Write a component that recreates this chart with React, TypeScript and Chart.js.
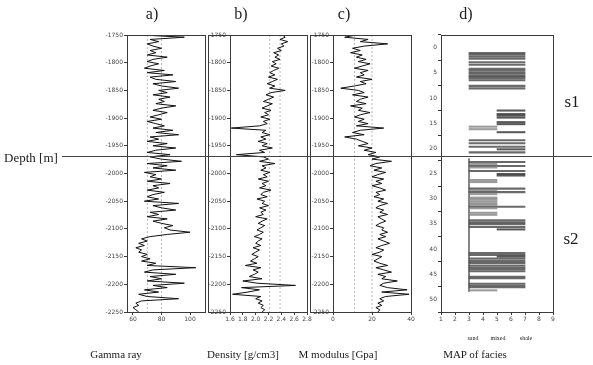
import React, { useEffect, useRef } from "react";
import { Chart, registerables } from "chart.js";
Chart.register(...registerables);

const W = 593;
const H = 365;

// depth axis (m)
const DEPTH_TOP = -1750;
const DEPTH_BOTTOM = -2250;
const DEPTH_STEP = 4; // log sampling interval
const DEPTH_TICK = 50;
const ZONE_BOUNDARY = -1970; // s1 / s2 boundary

// a) Gamma ray
const GAMMA_TICKS = [60, 80, 100];
const GAMMA_REF = [70, 80];
const GAMMA = [
  66, 96, 72, 78, 70, 74,
  80, 72, 76, 70, 84, 74,
  70, 78, 72, 68, 82, 70,
  88, 72, 76, 90, 74, 80,
  92, 78, 84, 74, 86, 78,
  82, 76, 90, 80, 74, 84,
  78, 72, 80, 70, 76, 82,
  74, 88, 76, 92, 72, 78,
  70, 84, 74, 90, 76, 70,
  86, 72, 80, 94, 70, 84,
  74, 90, 68, 76, 72, 80,
  70, 86, 74, 78, 70, 82,
  74, 70, 78, 68, 92, 74,
  80, 90, 72, 78, 70, 84,
  74, 80, 88, 82, 86, 100,
  84, 72, 66, 70, 64, 68,
  62, 66, 64, 70, 66, 72,
  66, 76, 70, 104, 74, 68,
  90, 72, 80, 70, 96, 74,
  84, 68, 78, 64, 70, 92,
  66, 62, 64, 60, 62, 64,
];

// b) Density
const DENSITY_TICKS = [1.6, 1.8, 2.0, 2.2, 2.4, 2.6, 2.8];
const DENSITY_REF = [2.22, 2.38];
const DENSITY = [
  2.42, 2.46, 2.38, 2.50, 2.40, 2.44,
  2.34, 2.40, 2.28, 2.36, 2.30, 2.38,
  2.26, 2.32, 2.24, 2.36, 2.28, 2.22,
  2.30, 2.20, 2.34, 2.26, 2.18, 2.30,
  2.22, 2.46, 2.24, 2.16, 2.28, 2.20,
  2.12, 2.26, 2.18, 2.10, 2.24, 2.14,
  2.20, 2.08, 2.22, 2.12, 2.18, 2.06,
  1.62, 2.16, 2.10, 2.22, 2.08, 2.16,
  2.04, 2.18, 2.10, 2.26, 2.06, 2.14,
  1.70, 2.12, 2.20, 2.06, 2.30, 2.10,
  2.16, 2.08, 2.22, 2.12, 2.18, 2.04,
  2.20, 2.10, 2.16, 2.06, 2.24, 2.12,
  2.08, 2.18, 2.02, 2.14, 2.10, 2.20,
  2.06, 2.16, 2.08, 2.12, 2.00, 2.18,
  2.10, 2.04, 2.14, 2.08, 2.02, 2.12,
  2.06, 1.98, 2.10, 2.04, 2.00, 2.08,
  1.96, 2.06, 2.00, 1.94, 2.04, 1.98,
  1.92, 2.02, 1.84, 2.08, 1.96, 2.04,
  1.98, 1.90, 2.10, 1.80, 2.02, 2.62,
  1.78, 2.06, 1.88, 1.64, 2.08, 2.00,
  2.10, 2.04, 2.12, 2.08, 2.14, 2.10,
];

// c) M modulus
const MMOD_TICKS = [0, 20, 40];
const MMOD_REF = [11, 20];
const MMOD = [
  12, 6, 18, 14, 28, 16,
  10, 14, 9, 15, 12, 17,
  13, 19, 15, 11, 18, 14,
  16, 12, 20, 14, 17, 11,
  4, 13, 16, 10, 18, 14,
  12, 17, 9, 15, 13, 19,
  14, 11, 16, 13, 18, 12,
  26, 14, 10, 16, 6, 12,
  15, 18, 13, 20, 16, 22,
  18, 24, 20, 30, 22, 19,
  25, 21, 27, 23, 20, 26,
  22, 25, 20, 24, 27, 22,
  24, 21, 26, 23, 28, 24,
  22, 26, 24, 28, 23, 25,
  27, 24, 22, 26, 25, 28,
  24, 27, 23, 26, 29, 25,
  22, 26, 24, 20, 25, 23,
  21, 24, 28, 22, 26, 30,
  23, 27, 25, 33, 26, 24,
  28, 38, 25, 39, 27, 24,
  26, 23, 25, 22, 24, 23,
];

// d) MAP of facies (3 = sand, 5 = mixed, 7 = shale)
const FACIES_NAMES = ["sand", "mixed", "shale"];
const FACIES_CODES = [3, 5, 7];
const FACIES_DEPTH = [
  -1761, -1764, -1768, -1772, -1779, -1784,
  -1792, -1795, -1799, -1802, -1806, -1808, -1811, -1815,
  -1826, -1831,
  -1875, -1882, -1885, -1889, -1898, -1902,
  -1907, -1912, -1918,
  -1934, -1940, -1947, -1952, -1958,
  -1977, -1981, -1985, -1988,
  -1995, -2001, -2004,
  -2013, -2017,
  -2030, -2033, -2037, -2041,
  -2048, -2051, -2055, -2059, -2062, -2066, -2069,
  -2078, -2082,
  -2093, -2097, -2100, -2106, -2111,
  -2158, -2162, -2165, -2169, -2174, -2178,
  -2183, -2187, -2190, -2194,
  -2205, -2208,
  -2219, -2223, -2226, -2232,
];
const FACIES_FROM = [
  3, 3, 3, 3, 3, 3,
  3, 3, 3, 3, 3, 3, 3, 3,
  3, 3,
  5, 5, 5, 5, 5, 5,
  3, 3, 5,
  3, 3, 3, 5, 3,
  3, 3, 3, 3,
  3, 5, 5,
  3, 3,
  3, 3, 3, 3,
  3, 3, 3, 3, 3, 3, 3,
  3, 3,
  3, 3, 3, 3, 5,
  3, 3, 5, 3, 3, 3,
  3, 3, 3, 3,
  3, 3,
  3, 3, 3, 3,
];
const FACIES_TO = [
  7, 7, 7, 7, 7, 7,
  7, 7, 7, 7, 7, 7, 7, 7,
  7, 7,
  7, 7, 7, 7, 7, 7,
  5, 5, 7,
  7, 7, 7, 7, 7,
  7, 5, 7, 5,
  7, 7, 7,
  5, 5,
  7, 5, 7, 5,
  5, 5, 5, 5, 5, 7, 5,
  5, 5,
  7, 7, 7, 7, 7,
  7, 7, 7, 7, 7, 7,
  7, 7, 7, 7,
  7, 7,
  7, 7, 7, 5,
];
const FACIES_TICKS = [1, 2, 3, 4, 5, 6, 7, 8, 9];

const DEPTHS = GAMMA.map((_, i) => DEPTH_TOP - i * DEPTH_STEP);

const TICK_FONT = { family: "'DejaVu Sans', sans-serif", size: 6 };
const AXIS_COLOR = "#3a3a3a";
const PLOT_TOP = 35;
const PLOT_BOTTOM = 312;
const XAXIS_H = 14;

function framePlugin(outerLeft: number | null) {
  return {
    id: "frame",
    afterDraw(chart: any) {
      const { ctx, chartArea: a } = chart;
      ctx.save();
      ctx.strokeStyle = AXIS_COLOR;
      ctx.lineWidth = 1;
      ctx.strokeRect(Math.round(a.left) + 0.5, Math.round(a.top) + 0.5, Math.round(a.right - a.left), Math.round(a.bottom - a.top));
      if (outerLeft !== null) {
        ctx.strokeRect(outerLeft + 0.5, Math.round(a.top) + 0.5, Math.round(a.right - outerLeft), Math.round(a.bottom - a.top));
      }
      ctx.restore();
    },
  };
}

function depthAxis(width: number, labelFn?: (v: number) => string) {
  return {
    type: "linear",
    min: DEPTH_BOTTOM,
    max: DEPTH_TOP,
    afterBuildTicks: (s: any) => {
      const t = [];
      for (let v = DEPTH_TOP; v >= DEPTH_BOTTOM; v -= DEPTH_TICK) t.push({ value: v });
      s.ticks = t;
    },
    afterFit: (s: any) => {
      s.width = width;
    },
    grid: { drawOnChartArea: false, tickLength: 3, color: AXIS_COLOR },
    border: { color: AXIS_COLOR },
    ticks: {
      font: TICK_FONT,
      color: "#444",
      padding: 1,
      autoSkip: false,
      callback: (v: number) => (labelFn ? labelFn(v) : String(v)),
    },
  };
}

function valueAxis(min: number, max: number, ticks: number[]) {
  return {
    type: "linear",
    min,
    max,
    afterBuildTicks: (s: any) => {
      s.ticks = ticks.map((v) => ({ value: v }));
    },
    afterFit: (s: any) => {
      s.height = XAXIS_H;
    },
    grid: { drawOnChartArea: false, tickLength: 3, color: AXIS_COLOR },
    border: { color: AXIS_COLOR },
    ticks: { font: TICK_FONT, color: "#444", padding: 1, autoSkip: false, maxRotation: 0 },
  };
}

function padding(left: number, right: number) {
  return { left, right: W - right, top: PLOT_TOP, bottom: H - PLOT_BOTTOM - XAXIS_H };
}

function logConfig(values: number[], refs: number[], xmin: number, xmax: number, ticks: number[], left: number, right: number, yw: number, outerLeft: number | null) {
  const refSets = refs.map((r) => ({
    data: [
      { x: r, y: DEPTH_TOP },
      { x: r, y: DEPTH_BOTTOM },
    ],
    borderColor: "#9a9a9a",
    borderWidth: 0.7,
    borderDash: [2, 2],
    pointRadius: 0,
    order: 2,
  }));
  return {
    type: "line",
    data: {
      datasets: [
        {
          data: values.map((v, i) => ({ x: v, y: DEPTHS[i] })),
          borderColor: "#111",
          borderWidth: 1,
          pointRadius: 0,
          tension: 0,
          order: 1,
        },
        ...refSets,
      ],
    },
    options: {
      responsive: false,
      animation: false,
      indexAxis: "y",
      layout: { padding: padding(left - yw, right) },
      plugins: { legend: { display: false }, tooltip: { enabled: false } },
      scales: {
        x: valueAxis(xmin, xmax, ticks),
        y: depthAxis(yw),
      },
    },
    plugins: [framePlugin(outerLeft)],
  };
}

function faciesColor(from: number, to: number) {
  if (from === 3 && to === 7) return "rgba(80,80,80,0.85)";
  if (from === 5) return "rgba(60,60,60,0.85)";
  return "rgba(130,130,130,0.8)";
}

function faciesConfig() {
  return {
    type: "bar",
    data: {
      datasets: [
        {
          type: "bar",
          data: FACIES_DEPTH.map((d, i) => ({ y: d, x: [FACIES_FROM[i], FACIES_TO[i]] })),
          backgroundColor: (c: any) => {
            const r = c.raw;
            return r ? faciesColor(r.x[0], r.x[1]) : "#777";
          },
          borderWidth: 0,
          barThickness: 1.4,
          grouped: false,
        },
        {
          type: "line",
          data: [
            { x: FACIES_CODES[0], y: ZONE_BOUNDARY },
            { x: FACIES_CODES[0], y: -2235 },
          ],
          borderColor: "#666",
          borderWidth: 0.8,
          pointRadius: 0,
        },
      ],
    },
    options: {
      responsive: false,
      animation: false,
      indexAxis: "y",
      layout: { padding: padding(441 - 12, 553) },
      plugins: { legend: { display: false }, tooltip: { enabled: false } },
      scales: {
        x: valueAxis(1, 9, FACIES_TICKS),
        y: depthAxis(12, (v) => String((DEPTH_TOP - v) / 10)),
      },
    },
    plugins: [framePlugin(null)],
  };
}

function ChartCanvas({ make }: { make: () => any }) {
  const ref = useRef<HTMLCanvasElement | null>(null);
  useEffect(() => {
    if (!ref.current) return;
    const chart = new Chart(ref.current, make());
    return () => chart.destroy();
  }, []);
  return <canvas ref={ref} width={W} height={H} style={{ position: "absolute", left: 0, top: 0, width: W, height: H }} />;
}

function Txt({ x, y, size, children }: { x: number; y: number; size: number; children: any }) {
  return (
    <div
      style={{
        position: "absolute",
        left: x,
        top: y,
        transform: "translate(-50%, -50%)",
        fontSize: size,
        lineHeight: 1,
        whiteSpace: "nowrap",
        color: "#1a1a1a",
      }}
    >
      {children}
    </div>
  );
}

export default function App() {
  return (
    <div
      style={{
        position: "absolute",
        left: 0,
        top: 0,
        width: W,
        height: H,
        background: "#fff",
        overflow: "hidden",
        fontFamily: "'Liberation Serif', 'DejaVu Serif', serif",
      }}
    >
      <ChartCanvas make={() => logConfig(GAMMA, GAMMA_REF, 55.8, 110.5, GAMMA_TICKS, 127, 205, 30, null)} />
      <ChartCanvas make={() => logConfig(DENSITY, DENSITY_REF, 1.6, 2.8, DENSITY_TICKS, 230, 307, 22, 208)} />
      <ChartCanvas make={() => logConfig(MMOD, MMOD_REF, 0, 40, MMOD_TICKS, 333, 411, 23, 310)} />
      <ChartCanvas make={() => faciesConfig()} />

      <div style={{ position: "absolute", left: 62, top: 156, width: 530, height: 1, background: "#444" }} />

      <Txt x={152} y={14} size={16}>a)</Txt>
      <Txt x={241} y={14} size={16}>b)</Txt>
      <Txt x={344} y={14} size={16}>c)</Txt>
      <Txt x={466} y={14} size={16}>d)</Txt>

      <Txt x={31} y={157} size={13}>Depth [m]</Txt>
      <Txt x={572} y={101} size={17}>s1</Txt>
      <Txt x={571} y={238} size={17}>s2</Txt>

      {FACIES_NAMES.map((n, i) => (
        <Txt key={n} x={[473, 498, 526][i]} y={338} size={6}>
          {n}
        </Txt>
      ))}

      <Txt x={116} y={354} size={11}>Gamma ray</Txt>
      <Txt x={243} y={354} size={11}>Density [g/cm3]</Txt>
      <Txt x={338} y={354} size={11}>M modulus [Gpa]</Txt>
      <Txt x={475} y={354} size={11}>MAP of facies</Txt>
    </div>
  );
}
